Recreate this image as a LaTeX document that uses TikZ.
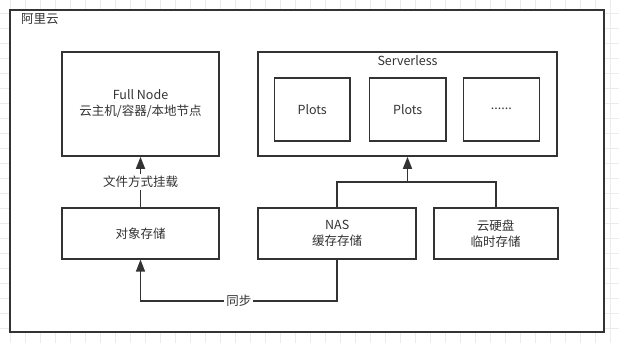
\documentclass[tikz,border=0pt]{standalone}
\usepackage{fontspec}
\setmainfont{Noto Sans CJK SC}
\usetikzlibrary{arrows.meta}
\definecolor{ink}{HTML}{333333}
\definecolor{gridc}{HTML}{EBEBEB}
\tikzset{
  box/.style={draw=ink, line width=1.6pt, fill=white, inner sep=0pt, align=center, text=ink,
    font=\fontsize{12.5pt}{16pt}\selectfont},
  conn/.style={draw=ink, line width=1.6pt},
  arr/.style={conn, -{Triangle[length=12pt,width=9pt]}},
  lbl/.style={fill=white, text=ink, inner sep=2pt, font=\fontsize{12.5pt}{16pt}\selectfont},
}
\begin{document}
\begin{tikzpicture}[x=1pt,y=-1pt]
\useasboundingbox (0,0) rectangle (619,343);
% background grid
\foreach \gx in {10,25,...,619} \draw[gridc, line width=0.8pt] (\gx,0) -- (\gx,343);
\foreach \gy in {-1.7,13.3,...,343} \draw[gridc, line width=0.8pt] (0,\gy) -- (619,\gy);
% outer frame
\node[draw=ink, line width=2pt, fill=white, minimum width=594pt, minimum height=322pt, inner sep=0pt] (outer) at (307.25,171) {};
\node[anchor=west, text=ink, inner sep=0pt, font=\fontsize{12.5pt}{16pt}\selectfont] (aliyun) at (21,19) {阿里云};
% boxes
\node[box, minimum width=157pt, minimum height=104pt] (full) at (140.5,104) {Full Node\\云主机/容器/本地节点};
\node[box, minimum width=299pt, minimum height=104pt] (sls) at (407.5,104) {};
\node[anchor=center, text=ink, inner sep=0pt, font=\fontsize{12.5pt}{16pt}\selectfont] (slsl) at (407.5,61) {Serverless};
\node[box, minimum width=75.7pt, minimum height=63pt] (p1) at (312.2,109.2) {Plots};
\node[box, minimum width=76.7pt, minimum height=63pt] (p2) at (407.7,109.2) {Plots};
\node[box, minimum width=76pt, minimum height=63pt] (p3) at (501.3,109.2) {......};
\node[box, minimum width=157pt, minimum height=51pt] (obj) at (140.5,233.3) {对象存储};
\node[box, minimum width=158pt, minimum height=51pt] (nas) at (337.2,233.3) {NAS\\缓存存储};
\node[box, minimum width=124pt, minimum height=51pt] (disk) at (495.7,233.3) {云硬盘\\临时存储};
% connectors
\draw[arr] (obj.north) -- node[lbl] (mount) {文件方式挂载} (full.south);
\coordinate (j) at (407.5,182);
\draw[conn] (nas.north) |- (j) -| (disk.north);
\draw[arr] (j) -- (sls.south);
\coordinate (sb) at (337.2,300.7);
\draw[arr] (nas.south) -- (sb) -| node[lbl, pos=0.25] (sync) {同步} (obj.south);
\end{tikzpicture}
\end{document}
